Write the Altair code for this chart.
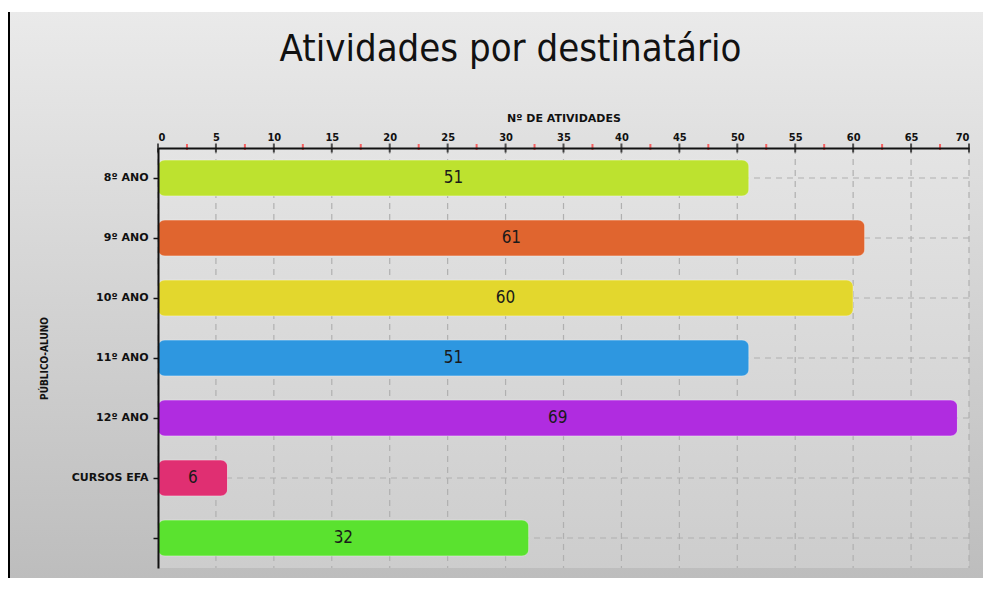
import altair as alt
import pandas as pd

title_text = "Atividades por destinatário"
categories = ["8º ANO", "9º ANO", "10º ANO", "11º ANO", "12º ANO", "CURSOS EFA", ""]
values = [51, 61, 60, 51, 69, 6, 32]
colors = ["#bde22f", "#e0652f", "#e3d72d", "#2e97e0", "#b02ce0", "#e02f72", "#5ae22f"]
major_ticks = [0, 5, 10, 15, 20, 25, 30, 35, 40, 45, 50, 55, 60, 65, 70]
minor_ticks = [2.5, 7.5, 12.5, 17.5, 22.5, 27.5, 32.5, 37.5, 42.5, 47.5, 52.5, 57.5, 62.5, 67.5]

W, H = 811, 420
PAD = {"left": 150, "top": 140, "right": 14, "bottom": 10}

df = pd.DataFrame({"cat": categories, "val": values, "col": colors})
df["half"] = df["val"] / 2
df_major = pd.DataFrame({"t": major_ticks})
df_minor = pd.DataFrame({"t": minor_ticks})

AX_FONT = "DejaVu Sans"
COND = "DejaVu Sans Condensed"

xscale = alt.Scale(domain=[0, 70], nice=False)
yscale = alt.Scale(domain=categories, paddingInner=0.4, paddingOuter=0.2)

x_axis = alt.Axis(orient="top", values=major_ticks, ticks=False, grid=False,
                  title="Nº DE ATIVIDADES", domainColor="#111", domainWidth=2,
                  labelFont=COND, labelFontSize=11, labelFontWeight="bold",
                  labelColor="#111", labelPadding=6, titleFont=AX_FONT,
                  titleFontSize=11, titleFontWeight="bold", titleColor="#111",
                  titlePadding=8, zindex=1)
y_axis = alt.Axis(orient="left", ticks=True, tickSize=5, tickColor="#111",
                  tickWidth=1.5, grid=False, title="PÚBLICO-ALUNO",
                  domainColor="#111", domainWidth=2, labelFont=AX_FONT,
                  labelFontSize=11, labelFontWeight="bold", labelColor="#111",
                  labelPadding=5, titleFont=COND, titleFontSize=10,
                  titleFontWeight="bold", titleColor="#111", titlePadding=22,
                  zindex=1)

base = alt.Chart(df)

outer_bg = base.mark_rect(
    fill=alt.Gradient(gradient="linear", x1=0, y1=0, x2=0, y2=1,
                      stops=[alt.GradientStop(offset=0, color="#eaeaea"),
                             alt.GradientStop(offset=1, color="#bdbdbd")]),
    clip=False,
).encode(x=alt.value(-PAD["left"] + 1), x2=alt.value(W + PAD["right"]),
         y=alt.value(-PAD["top"] + 4), y2=alt.value(H + PAD["bottom"]))

plot_bg = base.mark_rect(
    fill=alt.Gradient(gradient="linear", x1=0, y1=0, x2=0, y2=1,
                      stops=[alt.GradientStop(offset=0, color="#e4e4e4"),
                             alt.GradientStop(offset=1, color="#cdcdcd")]),
).encode(x=alt.value(0), x2=alt.value(W), y=alt.value(0), y2=alt.value(H))

border = base.mark_rule(color="#000", strokeWidth=2, clip=False).encode(
    x=alt.value(-PAD["left"] + 1), y=alt.value(-PAD["top"] + 4),
    y2=alt.value(H + PAD["bottom"]))

title = alt.Chart(pd.DataFrame({"t": [title_text]})).mark_text(
    font=COND, fontSize=38, color="#111",
    align="center", baseline="alphabetic", clip=False,
).encode(text="t:N", x=alt.value(W / 2 - 53), y=alt.value(-87))

vgrid = alt.Chart(df_major).mark_rule(color="#b0b0b0", strokeWidth=1.2,
                                      strokeDash=[6, 5]).encode(
    x=alt.X("t:Q", scale=xscale, axis=x_axis))

hgrid = base.mark_rule(color="#b0b0b0", strokeWidth=1.2, strokeDash=[6, 5]).encode(
    y=alt.Y("cat:N", scale=yscale, sort=categories, axis=y_axis))

bars = base.mark_bar(cornerRadius=7, stroke="#ffffff", strokeOpacity=0.25,
                     strokeWidth=1).encode(
    x=alt.X("val:Q", scale=xscale, axis=x_axis),
    y=alt.Y("cat:N", scale=yscale, sort=categories, axis=y_axis),
    color=alt.Color("col:N", scale=None),
)

labels = base.mark_text(font=COND, fontSize=17, color="#1a1a1a",
                        baseline="middle", align="center").encode(
    x=alt.X("half:Q", scale=xscale, axis=x_axis),
    y=alt.Y("cat:N", scale=yscale, sort=categories, axis=y_axis),
    text=alt.Text("val:Q"),
)

major = alt.Chart(df_major).mark_tick(color="#111", thickness=2, size=9,
                                      orient="vertical", clip=False).encode(
    x=alt.X("t:Q", scale=xscale, axis=x_axis), y=alt.value(0))

minor = alt.Chart(df_minor).mark_tick(color="#ff2a2a", thickness=2, size=6,
                                      orient="vertical", clip=False).encode(
    x=alt.X("t:Q", scale=xscale, axis=x_axis), y=alt.value(-1))

chart = alt.layer(outer_bg, plot_bg, border, title, vgrid, hgrid, bars, labels,
                  major, minor).properties(
    width=W, height=H,
    autosize=alt.AutoSizeParams(type="none"),
    padding=PAD,
    background="#ffffff",
).configure_view(stroke=None)

chart.save("out.html", embed_options={"renderer": "svg", "actions": False})
